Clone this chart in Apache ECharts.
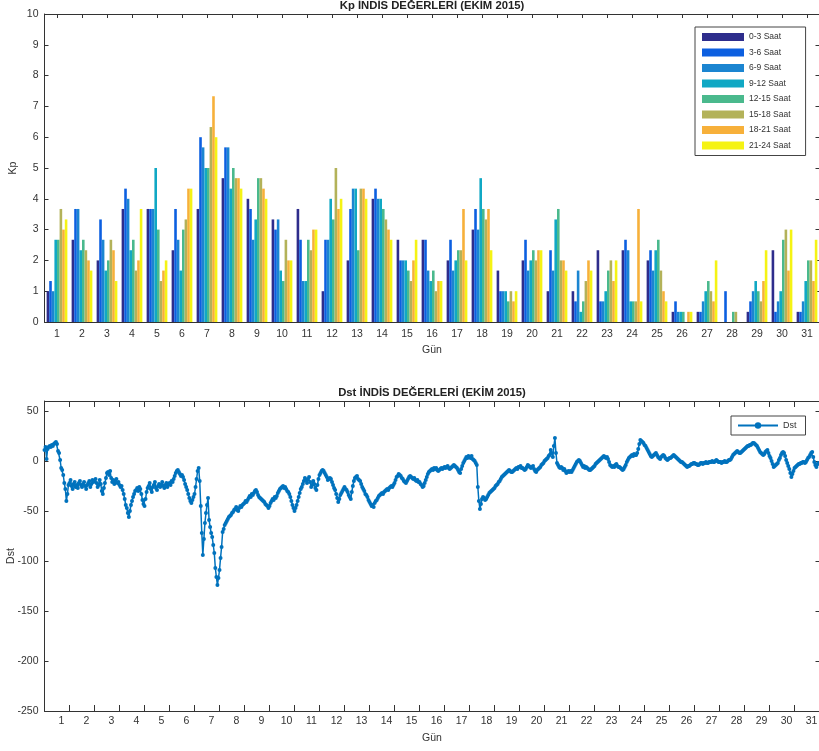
<!DOCTYPE html>
<html>
<head>
<meta charset="utf-8">
<script src="https://cdn.jsdelivr.net/npm/echarts@6/dist/echarts.min.js"></script>
<style>
  html, body { margin: 0; padding: 0; background: #ffffff; }
  #chart { width: 819px; height: 751px; }
</style>
</head>
<body>
<div id="chart"></div>
<script>
// Days of October 2015
const days = ['1','2','3','4','5','6','7','8','9','10','11','12','13','14','15','16',
              '17','18','19','20','21','22','23','24','25','26','27','28','29','30','31'];

// Three-hourly Kp values, one array per time slot (31 days each)
const slotNames = ['0-3 Saat','3-6 Saat','6-9 Saat','9-12 Saat','12-15 Saat','15-18 Saat','18-21 Saat','21-24 Saat'];
const kp00_03 = [1, 2.67, 2, 3.67, 3.67, 2.33, 3.67, 4.67, 4, 3.33, 3.67, 1, 2, 4, 2.67, 2.67, 2, 3, 1.67, 2, 1, 1, 2.33, 2.33, 2, 0.33, 0.33, 0, 0.33, 2.33, 0.33];
const kp03_06 = [1.33, 3.67, 3.33, 4.33, 3.67, 3.67, 6, 5.67, 3.67, 3, 2.67, 2.67, 3.67, 4.33, 2, 2.67, 2.67, 3.67, 1, 2.67, 2.33, 0.67, 0.67, 2.67, 2.33, 0.67, 0.33, 1, 0.67, 0.33, 0.33];
const kp06_09 = [1, 3.67, 2.67, 4, 3.67, 2.67, 5.67, 5.67, 2.67, 3.33, 1.33, 2.67, 4.33, 4, 2, 1.67, 1.67, 3, 1, 1.67, 1.67, 1.67, 0.67, 2.33, 1.67, 0.33, 0.67, 0, 1, 0.67, 0.67];
const kp09_12 = [2.67, 2.33, 1.67, 2.33, 5, 1.67, 5, 4.33, 3.33, 1.67, 1.33, 4, 4.33, 4, 2, 1.33, 2, 4.67, 1, 2, 3.33, 0.33, 1, 0.67, 2.33, 0.33, 1, 0, 1.33, 1, 1.33];
const kp12_15 = [2.67, 2.67, 2, 2.67, 3, 3, 5, 5, 4.67, 1.33, 2.67, 3.33, 2.33, 3.67, 1.67, 1.67, 2.33, 3.67, 0.67, 2.33, 3.67, 0.67, 1.67, 0.67, 2.67, 0.33, 1.33, 0.33, 1, 2.67, 2];
const kp15_18 = [3.67, 2.33, 2.67, 1.67, 1.33, 3.33, 6.33, 4.67, 4.67, 2.67, 2.33, 5, 4.33, 3.33, 1.33, 1, 2.33, 3.33, 1, 2, 2, 1.33, 2, 0.67, 1.67, 0, 1, 0.33, 0.67, 3, 2];
const kp18_21 = [3, 2, 2.33, 2, 1.67, 4.33, 7.33, 4.67, 4.33, 2, 3, 3.67, 4.33, 3, 2, 1.33, 3.67, 3.67, 0.67, 2.33, 2, 2, 1.33, 3.67, 1, 0.33, 0.67, 0, 1.33, 1.67, 1.33];
const kp21_24 = [3.33, 1.67, 1.33, 3.67, 2, 4.33, 6, 4.33, 4, 2, 3, 4, 4, 2.67, 2.67, 1.33, 2, 2.33, 1, 2.33, 1.67, 1.67, 2, 0.67, 0.67, 0.33, 2, 0, 2.33, 3, 2.67];
const slotColors = ['#2e2d8c', '#0c5fe0', '#1b85d1', '#10a8c4', '#4ab98d', '#b3b259', '#f7b03a', '#f5f314'];

// Hourly Dst values (nT), one row per day
const dstHourly = [
  11, 14, 2, 12, 14, 15, 14, 16, 15, 17, 18, 19, 17, 10, 8, 1, -7, -9, -14, -22, -28, -40, -33, -24,
  -22, -19, -25, -28, -23, -21, -26, -24, -27, -22, -20, -24, -26, -23, -21, -25, -28, -24, -22, -20, -26, -23, -19, -21,
  -20, -18, -22, -26, -24, -19, -23, -30, -33, -27, -22, -17, -12, -11, -14, -10, -17, -21, -19, -23, -20, -18, -22, -21,
  -24, -26, -25, -29, -33, -38, -44, -47, -52, -56, -50, -44, -40, -36, -33, -30, -29, -27, -30, -26, -28, -33, -39, -43,
  -45, -38, -31, -27, -25, -22, -28, -31, -26, -24, -21, -27, -29, -25, -23, -26, -24, -21, -25, -27, -24, -22, -26, -23,
  -22, -24, -20, -21, -18, -15, -12, -10, -9, -11, -13, -15, -14, -16, -19, -23, -26, -29, -33, -37, -40, -42, -39, -36,
  -33, -26, -18, -10, -7, -20, -45, -72, -94, -78, -62, -52, -44, -37, -59, -66, -72, -76, -84, -92, -107, -116, -124, -117,
  -109, -97, -86, -71, -68, -64, -62, -60, -58, -56, -55, -54, -52, -51, -49, -48, -46, -49, -50, -47, -45, -46, -44, -43,
  -42, -40, -41, -39, -37, -35, -36, -33, -34, -32, -30, -29, -31, -34, -36, -37, -38, -39, -40, -41, -43, -44, -45, -47,
  -45, -42, -40, -38, -39, -36, -37, -35, -32, -30, -28, -27, -26, -25, -27, -26, -28, -30, -31, -33, -36, -40, -44, -47,
  -50, -47, -44, -40, -36, -32, -28, -26, -23, -20, -17, -19, -22, -18, -16, -21, -26, -24, -20, -23, -27, -29, -24, -18,
  -14, -12, -10, -9, -10, -12, -14, -16, -19, -18, -17, -18, -21, -24, -27, -29, -33, -37, -41, -38, -34, -32, -30, -28,
  -26, -28, -29, -31, -34, -36, -38, -31, -25, -20, -17, -16, -15, -18, -19, -20, -23, -26, -28, -30, -33, -34, -36, -39,
  -41, -43, -45, -44, -46, -42, -40, -39, -37, -35, -34, -33, -32, -33, -31, -30, -29, -28, -29, -27, -26, -25, -26, -24,
  -22, -19, -16, -15, -13, -14, -15, -17, -18, -20, -21, -22, -20, -18, -16, -15, -16, -17, -18, -17, -19, -20, -19, -21,
  -21, -23, -24, -26, -25, -22, -19, -16, -13, -11, -10, -9, -8, -9, -7, -8, -7, -9, -10, -9, -8, -7, -8, -7,
  -6, -7, -6, -5, -7, -8, -7, -6, -5, -4, -5, -6, -7, -9, -11, -12, -8, -5, -2, 0, 2, 4, 3, 5,
  4, 3, 5, 2, 1, 0, -2, -4, -26, -40, -48, -43, -38, -36, -37, -39, -38, -36, -34, -32, -31, -30, -29, -28,
  -27, -25, -24, -23, -21, -20, -18, -16, -15, -14, -13, -12, -11, -10, -9, -10, -11, -11, -10, -9, -8, -7, -8, -6,
  -6, -5, -7, -7, -8, -9, -8, -6, -4, -5, -6, -7, -6, -5, -8, -10, -11, -9, -8, -7, -6, -4, -3, -2,
  0, 1, 2, 3, 5, 6, 11, 8, 4, 15, 23, 8, -2, -4, -6, -7, -6, -7, -9, -8, -10, -12, -11, -10,
  -11, -10, -11, -9, -7, -5, -3, -1, 0, 1, 0, -2, -4, -6, -5, -7, -6, -7, -8, -9, -9, -8, -7, -6,
  -5, -3, -2, -1, 0, 1, 2, 3, 4, 5, 4, 3, 4, 2, -1, -4, -5, -6, -5, -6, -4, -3, -5, -6,
  -6, -7, -8, -9, -8, -6, -4, -1, 1, 3, 4, 5, 6, 5, 7, 6, 6, 8, 12, 17, 21, 20, 19, 18,
  16, 15, 13, 11, 9, 7, 5, 4, 5, 6, 7, 8, 6, 4, 3, 2, 4, 5, 6, 5, 3, 2, 1, 2,
  3, 3, 4, 5, 6, 5, 4, 3, 2, 1, 0, -1, -1, -2, -3, -4, -5, -6, -5, -5, -4, -3, -3, -2,
  -2, -3, -3, -4, -4, -3, -2, -2, -3, -2, -2, -1, -2, -2, -1, -1, -1, 0, -1, -1, 0, 1, 0, -1,
  -1, -1, -2, -1, -1, 0, -1, -1, 0, 1, 1, 2, 4, 6, 7, 8, 9, 10, 9, 8, 8, 9, 10, 11,
  12, 13, 14, 15, 15, 16, 16, 17, 18, 18, 17, 16, 15, 13, 11, 9, 8, 7, 6, 7, 9, 10, 11, 8,
  5, 3, 0, -3, -6, -5, -4, -3, -2, 1, 3, 6, 8, 9, 8, 5, 1, -2, -5, -8, -12, -16, -13, -10,
  -7, -6, -5, -4, -3, -3, -2, -2, -1, -1, -2, -1, 1, 3, 4, 6, 8, 9, 4, -1, -4, -6, -3, -2
];

const kpSlots = [kp00_03, kp03_06, kp06_09, kp09_12, kp12_15, kp15_18, kp18_21, kp21_24];
const axisColor = '#333333';
const font = 'Liberation Sans, Arial, Helvetica, sans-serif';

const chart = echarts.init(document.getElementById('chart'), null, { renderer: 'canvas' });

const boxAxis = (extra) => Object.assign({
  axisLine: { show: true, onZero: false, lineStyle: { color: axisColor, width: 1 } },
  axisTick: { show: true, inside: true, length: 4, lineStyle: { color: axisColor } },
  axisLabel: { show: false },
  splitLine: { show: false }
}, extra);

const option = {
  backgroundColor: '#ffffff',
  animation: false,
  textStyle: { fontFamily: font },
  title: [
    { text: 'Kp İNDİS DEĞERLERİ (EKİM 2015)', left: 432, top: 0, textAlign: 'center', padding: 0,
      textStyle: { fontSize: 11.3, fontWeight: 'bold', color: '#222', fontFamily: font } },
    { text: 'Dst İNDİS DEĞERLERİ (EKİM 2015)', left: 432, top: 387, textAlign: 'center', padding: 0,
      textStyle: { fontSize: 11.3, fontWeight: 'bold', color: '#222', fontFamily: font } }
  ],
  legend: [
    {
      data: slotNames, orient: 'vertical', left: 695, top: 27,
      icon: 'rect', itemWidth: 42, itemHeight: 8, itemGap: 5.5,
      padding: [5, 15, 5, 7],
      borderColor: '#444', borderWidth: 1, backgroundColor: '#ffffff',
      textStyle: { fontSize: 8.5, color: '#333', lineHeight: 10, fontFamily: font },
      selectedMode: false
    },
    {
      data: ['Dst'], left: 731, top: 416,
      itemWidth: 40, itemHeight: 8, padding: [5, 9, 5, 6],
      borderColor: '#444', borderWidth: 1, backgroundColor: '#ffffff',
      textStyle: { fontSize: 9, color: '#333', fontFamily: font },
      selectedMode: false
    }
  ],
  grid: [
    { left: 44.5, top: 14, width: 775, height: 308, outerBoundsMode: 'none', containLabel: false },
    { left: 44.5, top: 401, width: 775, height: 310, outerBoundsMode: 'none', containLabel: false }
  ],
  xAxis: [
    boxAxis({
      type: 'category', gridIndex: 0, data: days, boundaryGap: true,
      axisTick: { show: true, inside: true, alignWithLabel: true, length: 4, lineStyle: { color: axisColor } },
      axisLabel: { show: true, fontSize: 10.5, color: '#333', margin: 7, interval: 0 },
      name: 'Gün', nameLocation: 'middle', nameGap: 23, nameMoveOverlap: false,
      nameTextStyle: { fontSize: 10.5, color: '#333' }
    }),
    boxAxis({
      type: 'category', gridIndex: 0, data: days, boundaryGap: true, position: 'top',
      axisTick: { show: true, inside: true, alignWithLabel: true, length: 4, lineStyle: { color: axisColor } }
    }),
    boxAxis({
      type: 'value', gridIndex: 1, min: 0, max: 744, interval: 24, position: 'bottom',
      axisTick: { show: true, inside: true, length: 6, lineStyle: { color: axisColor } },
      axisLabel: {
        show: true, fontSize: 10.5, color: '#333', margin: 5, showMinLabel: false,
        padding: [0, 16, 0, 0],
        formatter: (v) => (v > 0 ? days[v / 24 - 1] : '')
      },
      name: 'Gün', nameLocation: 'middle', nameGap: 22, nameMoveOverlap: false,
      nameTextStyle: { fontSize: 10.5, color: '#333' }
    }),
    boxAxis({
      type: 'value', gridIndex: 1, min: 0, max: 744, interval: 24, position: 'top',
      axisTick: { show: true, inside: true, length: 6, lineStyle: { color: axisColor } }
    })
  ],
  yAxis: [
    boxAxis({
      type: 'value', gridIndex: 0, min: 0, max: 10, interval: 1,
      axisLabel: { show: true, fontSize: 10.5, color: '#333', margin: 6 },
      name: 'Kp', nameLocation: 'middle', nameGap: 26, nameRotate: 90, nameMoveOverlap: false,
      nameTextStyle: { fontSize: 10.5, color: '#333' }
    }),
    boxAxis({ type: 'value', gridIndex: 0, min: 0, max: 10, interval: 1, position: 'right' }),
    boxAxis({
      type: 'value', gridIndex: 1, min: -250, max: 60, interval: 50,
      axisLabel: { show: true, fontSize: 10.5, color: '#333', margin: 6, showMaxLabel: false },
      name: 'Dst', nameLocation: 'middle', nameGap: 28, nameRotate: 90, nameMoveOverlap: false,
      nameTextStyle: { fontSize: 10.5, color: '#333' }
    }),
    boxAxis({ type: 'value', gridIndex: 1, min: -250, max: 60, interval: 50, position: 'right' })
  ],
  series: kpSlots.map((vals, i) => ({
    name: slotNames[i], type: 'bar', xAxisIndex: 0, yAxisIndex: 0,
    data: vals, barGap: '0%', barCategoryGap: '17%',
    itemStyle: { color: slotColors[i] }
  })).concat([{
    name: 'Dst', type: 'line', xAxisIndex: 2, yAxisIndex: 2,
    data: dstHourly.map((v, h) => [h, v]),
    symbol: 'circle', symbolSize: 4, showSymbol: true,
    lineStyle: { color: '#0072bd', width: 1.5 },
    itemStyle: { color: '#0072bd' }
  }])
};

chart.setOption(option);
</script>
</body>
</html>
